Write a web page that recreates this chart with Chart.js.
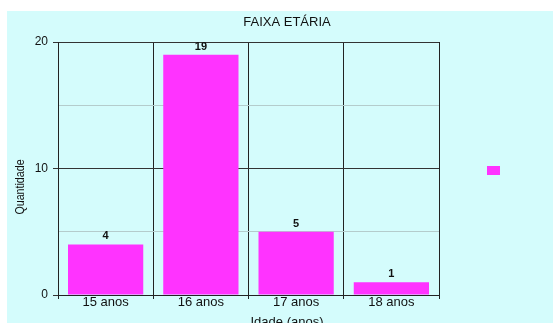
<!DOCTYPE html>
<html>
<head>
<meta charset="utf-8">
<script src="https://cdn.jsdelivr.net/npm/chart.js@4"></script>
<style>
  html, body { margin: 0; padding: 0; background: #ffffff; }
  #wrap { width: 553px; height: 323px; position: relative; }
</style>
</head>
<body>
<div id="wrap"><canvas id="faixaChart" width="553" height="323"></canvas></div>
<script>
const categorias = ['15 anos', '16 anos', '17 anos', '18 anos'];
const quantidades = [4, 19, 5, 1];
const yTicks = [0, 10, 20];

const titulo = 'FAIXA ETÁRIA';
const tituloX = 'Idade (anos)';
const tituloY = 'Quantidade';

const corBarra = '#ff33ff';
const corFundo = '#d4fcfc';
const fonte = '"Liberation Sans", Arial, sans-serif';

// background, titles, value labels and the (empty) legend key
const decoracao = {
    id: 'decoracao',
    beforeDraw(chart) {
        const c = chart.ctx;
        c.save();
        c.fillStyle = corFundo;
        c.fillRect(7, 11, chart.width - 7, chart.height - 11);
        c.restore();
    },
    afterDraw(chart) {
        const c = chart.ctx;
        c.save();
        c.fillStyle = '#111';
        c.textAlign = 'center';
        c.textBaseline = 'middle';
        c.font = '13px ' + fonte;
        c.fillText(titulo, 287, 22);
        c.fillText(tituloX, 287, 322);

        // y title is narrow in the original, squeeze it a bit
        c.save();
        c.translate(20, 187);
        c.rotate(-Math.PI / 2);
        c.scale(0.82, 1);
        c.font = '13px ' + fonte;
        c.fillText(tituloY, 0, 0);
        c.restore();

        c.font = 'bold 11px ' + fonte;
        const meta = chart.getDatasetMeta(0);
        meta.data.forEach(function (bar, i) {
            c.fillText(String(quantidades[i]), bar.x, bar.y - 8);
        });

        c.fillStyle = chart.data.datasets[0].backgroundColor;
        c.fillRect(487, 166, 13, 9);
        c.restore();
    }
};

const ctx = document.getElementById('faixaChart').getContext('2d');
const faixaChart = new Chart(ctx, {
    type: 'bar',
    data: {
        labels: categorias,
        datasets: [{
            label: '',
            data: quantidades,
            backgroundColor: corBarra,
            borderWidth: 0,
            barPercentage: 0.79,
            categoryPercentage: 1.0
        }]
    },
    options: {
        responsive: false,
        animation: false,
        layout: { padding: { left: 0, top: 42, right: 114, bottom: 0 } },
        plugins: {
            legend: { display: false },
            title: { display: false },
            tooltip: { enabled: false }
        },
        scales: {
            x: {
                afterFit: function (scale) { scale.height = 28; },
                grid: {
                    offset: true,
                    color: '#222',
                    lineWidth: 1,
                    tickLength: 4,
                    tickColor: '#222'
                },
                border: { color: '#222', width: 1 },
                ticks: {
                    color: '#111',
                    padding: -3,
                    font: { family: fonte, size: 13, lineHeight: 1 }
                }
            },
            y: {
                min: 0,
                max: 20,
                afterFit: function (scale) { scale.width = 58; },
                afterBuildTicks: function (scale) {
                    scale.ticks = [0, 5, 10, 15, 20].map(v => ({ value: v }));
                },
                grid: {
                    color: function (c) {
                        return yTicks.includes(c.tick.value) ? '#333' : '#b4cccc';
                    },
                    tickColor: function (c) {
                        return yTicks.includes(c.tick.value) ? '#333' : 'rgba(0,0,0,0)';
                    },
                    lineWidth: 1,
                    tickLength: 5
                },
                border: { color: '#222', width: 1 },
                ticks: {
                    color: '#111',
                    padding: 5,
                    font: { family: fonte, size: 12 },
                    callback: function (v) { return yTicks.includes(v) ? String(v) : ''; }
                }
            }
        }
    },
    plugins: [decoracao]
});
</script>
</body>
</html>
